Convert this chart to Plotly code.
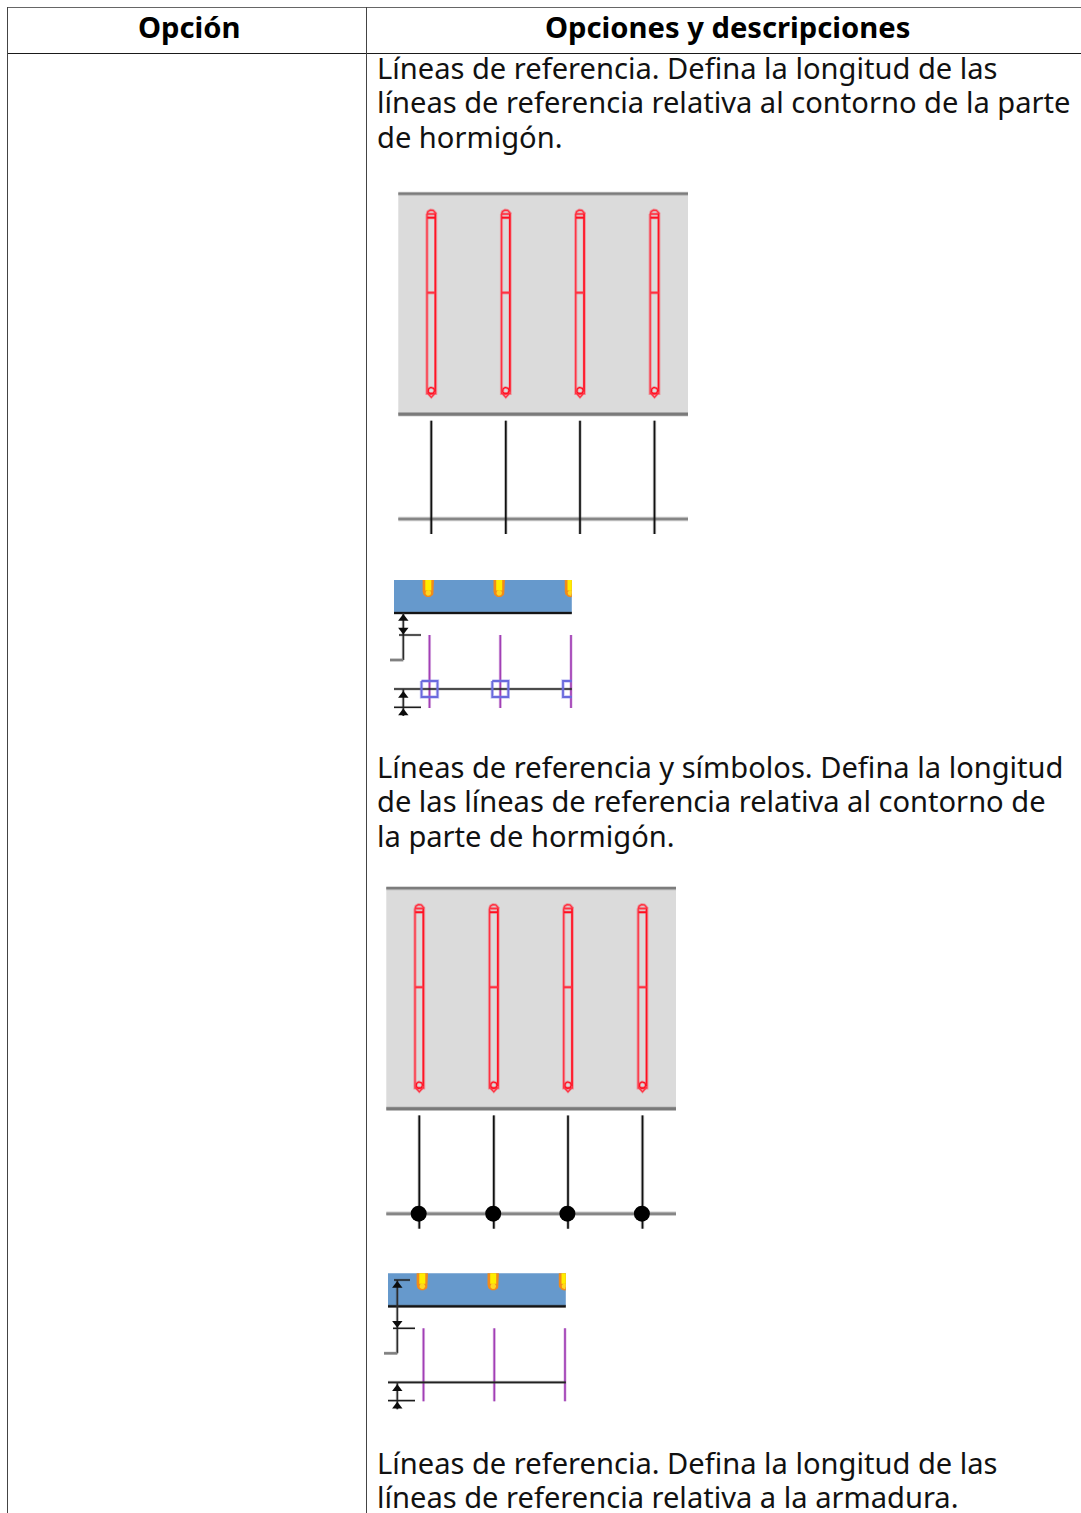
import numpy as np
import plotly.graph_objects as go

W, H = 1081, 1513

header_labels = ["Opción", "Opciones y descripciones"]
header_centers = [189.5, 727.5]
body_lines = [
    "Líneas de referencia. Defina la longitud de las",
    "líneas de referencia relativa al contorno de la parte",
    "de hormigón.",
    "Líneas de referencia y símbolos. Defina la longitud",
    "de las líneas de referencia relativa al contorno de",
    "la parte de hormigón.",
    "Líneas de referencia. Defina la longitud de las",
    "líneas de referencia relativa a la armadura.",
]
body_y = [67.6, 102, 136.5, 766.6, 801, 835.5, 1462.6, 1497]

bar_x = [431.3, 505.8, 580.0, 654.5]
detail_x = [428.3, 499.2, 570.5]
purple_x = [429.5, 500.3, 571.0]

fig = go.Figure()


def line(xs, ys, color, width=1.0, glow=None, glow_w=None):
    if glow:
        fig.add_trace(go.Scatter(x=xs, y=ys, mode="lines", line=dict(color=glow, width=glow_w or width + 2), hoverinfo="skip"))
    fig.add_trace(go.Scatter(x=xs, y=ys, mode="lines", line=dict(color=color, width=width), hoverinfo="skip"))


def poly(xs, ys, fill, edge=None, w=0):
    fig.add_trace(go.Scatter(x=xs, y=ys, mode="lines", fill="toself", fillcolor=fill,
                             line=dict(color=edge or fill, width=w), hoverinfo="skip"))


def tri(x, y, sym, size=9):
    fig.add_trace(go.Scatter(x=[x], y=[y], mode="markers", hoverinfo="skip",
                             marker=dict(symbol=sym, size=size, color="#0c0c0c", line=dict(width=0))))


def arc(cx, cy, r, a0=0, a1=360, n=32):
    t = np.radians(np.linspace(a0, a1, n))
    return cx + r * np.cos(t), cy + r * np.sin(t)


def panel(dx, dy, bottom_dy, dots):
    x0, x1 = 398.3 + dx, 688 + dx
    poly([x0, x1, x1, x0, x0], [193.7 + dy, 193.7 + dy, 414.3 + dy, 414.3 + dy, 193.7 + dy], "#dbdbdb")
    line([x0, x1], [193.7 + dy] * 2, "#7c7c7c", 2.2, "rgba(128,128,128,0.4)", 4)
    line([x0, x1], [414.3 + dy] * 2, "#7a7a7a", 3, "rgba(128,128,128,0.35)", 4.5)
    red, pink, glow = "#ff0f20", "#ff3040", "rgba(255,60,75,0.4)"
    for b in bar_x:
        c = b + dx
        top, bot = 211.0 + dy, 393.5 + dy
        xs = [c - 4.3, c + 4.3, c + 4.3, c - 4.3, c - 4.3]
        ys = [top + 3, top + 3, bot, bot, top + 3]
        line(xs, ys, pink, 1.3, glow, 3.2)
        line([c + 3.9, c + 3.9], [top + 3, bot - 2], red, 1.3)
        ax, ay = arc(c, top + 3.2, 4.2, 180, 360)
        line(list(ax), list(ay), pink, 1.3, glow, 3)
        line([c - 4, c + 4], [217.7 + dy] * 2, red, 1.8, glow, 3.2)
        line([c - 4, c + 4], [292.7 + dy] * 2, pink, 1.8, glow, 3.4)
        cx, cy = arc(c, 390.7 + dy, 3.2)
        line(list(cx), list(cy), red, 1.2, glow, 2.8)
        line([c - 3, c, c + 3], [394 + dy, 397.3 + dy, 394 + dy], pink, 1.2, glow, 2.6)
    y_h = 519 + bottom_dy
    line([x0, x1], [y_h, y_h], "#868686", 2.4, "rgba(140,140,140,0.45)", 4.4)
    for b in bar_x:
        c = b + dx
        line([c, c], [420.7 + bottom_dy, 534 + bottom_dy], "#101010", 1.7, "rgba(60,60,60,0.3)", 3.4)
    if dots:
        fig.add_trace(go.Scatter(x=[b + dx - 0.6 for b in bar_x], y=[y_h] * 4, mode="markers", hoverinfo="skip",
                                 marker=dict(symbol="circle", size=16, color="#000000", line=dict(width=0))))


def detail(dx, dy, squares, long_dim):
    x0, x1 = 394 + dx, 571.8 + dx
    poly([x0, x1, x1, x0, x0], [580 + dy, 580 + dy, 612.7 + dy, 612.7 + dy, 580 + dy], "#6699cc")
    for r in detail_x:
        c = r + dx
        # rebar end: orange sleeve, yellow core, both cut at the part edge
        ax, ay = arc(c, 591.5 + dy, 5.7, 0, 180, 20)
        xs = np.concatenate([[c + 5.7], ax, [c - 5.7]])
        ys = np.concatenate([[580 + dy], ay, [580 + dy]])
        poly(list(np.clip(xs, None, x1)), list(ys), "#f28a1a")
        bx, by = arc(c, 593 + dy, 2.8, 0, 360, 20)
        poly(list(np.clip(bx, None, x1)), list(by), "#ffd820")
        cxs = np.clip([c - 3, c + 3, c + 3, c - 3], None, x1)
        poly(list(cxs), [580 + dy, 580 + dy, 590.5 + dy, 590.5 + dy], "#ffee00")
    line([x0, x1], [613 + dy] * 2, "#141414", 2.2, "rgba(60,60,60,0.3)", 3.4)
    for p in purple_x:
        c = p + dx
        line([c, c], [635 + dy, 708 + dy], "#a23fb5", 1.7, "rgba(170,80,190,0.3)", 3.2)
    line([x0, x1], [689 + dy] * 2, "#222222", 1.7, "rgba(70,70,70,0.3)", 3.2)
    if squares:
        for p in purple_x:
            c = p + dx
            sx = np.clip([c - 8, c + 8, c + 8, c - 8, c - 8], None, x1)
            sy = [681 + dy, 681 + dy, 697 + dy, 697 + dy, 681 + dy]
            if c + 8 > x1:
                sx, sy = [x1, c - 8, c - 8, x1], [681 + dy, 681 + dy, 697 + dy, 697 + dy]
            line(list(sx), list(sy), "#6a6add", 1.8, "rgba(120,120,230,0.4)", 3.4)
    v = 403.3 + dx
    top = (586.7 + dy) if long_dim else (613 + dy)
    line([v, v], [top, 660 + dy], "#2c2c2c", 1.6, "rgba(70,70,70,0.25)", 3.2)
    line([390 + dx, v], [660 + dy, 660 + dy], "#808080", 2.4, "rgba(120,120,120,0.35)", 3.4)
    line([399 + dx, 421 + dx], [635 + dy, 635 + dy], "#1c1c1c", 1.4, "rgba(70,70,70,0.25)", 2.8)
    if long_dim:
        line([400 + dx, 416 + dx], [top, top], "#1c1c1c", 1.4, "rgba(70,70,70,0.25)", 2.8)
    tri(v, (top + 5.5), "triangle-up")
    tri(v, 630 + dy, "triangle-down")
    line([v, v], [689 + dy, 716 + dy], "#2c2c2c", 1.6, "rgba(70,70,70,0.25)", 3.2)
    line([394 + dx, 421 + dx], [707.3 + dy] * 2, "#1c1c1c", 1.4, "rgba(70,70,70,0.25)", 2.8)
    tri(v, 695.5 + dy, "triangle-up")
    tri(v, 713 + dy, "triangle-up")


# Table frame
for xs, ys, col, w in [
    ([7, W], [7.5, 7.5], "#666666", 1),
    ([7, W], [53.5, 53.5], "#1a1a1a", 1),
    ([7.5, 7.5], [7, H], "#444444", 1),
    ([366.5, 366.5], [7, H], "#444444", 1),
]:
    line(xs, ys, col, w)

panel(0, 0, 0, False)
detail(0, 0, True, False)
panel(-12, 694.5, 694.7, True)
detail(-6, 693.3, False, True)

ann = []
for t, c in zip(header_labels, header_centers):
    ann.append(dict(x=c, y=27, text=t, xanchor="center", yanchor="middle", showarrow=False,
                    font=dict(family="Noto Sans", size=29.2, color="#000000", weight="bold")))
for t, y in zip(body_lines, body_y):
    ann.append(dict(x=375, y=y, text=t, xanchor="left", yanchor="middle", showarrow=False,
                    font=dict(family="Noto Sans", size=29.1, color="#111111")))

fig.update_layout(
    width=W, height=H, margin=dict(l=0, r=0, t=0, b=0), showlegend=False,
    paper_bgcolor="#ffffff", plot_bgcolor="#ffffff", annotations=ann,
    xaxis=dict(range=[0, W], visible=False, fixedrange=True),
    yaxis=dict(range=[H, 0], visible=False, fixedrange=True),
)
fig.write_html("out.html", config=dict(displayModeBar=False),
               post_script="document.body.style.margin='0';document.body.style.overflow='hidden';")
